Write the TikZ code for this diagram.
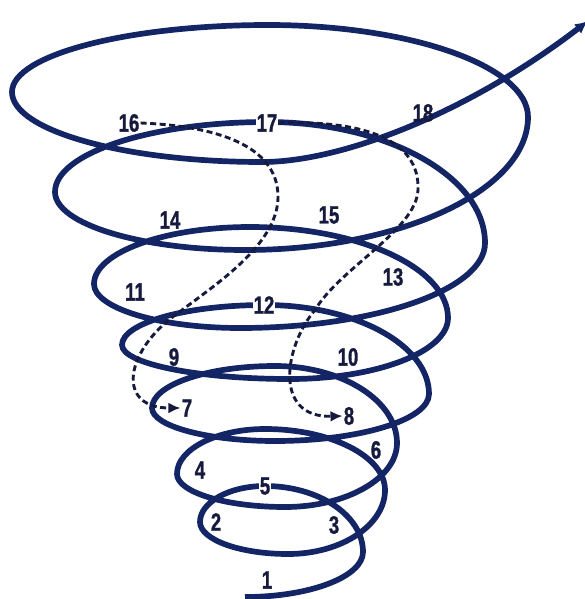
\documentclass[tikz,border=0pt]{standalone}
\usepackage{fontspec}
\newfontfamily\numfont{Liberation Sans}[UprightFont={* Bold}, FakeStretch=0.74, FakeBold=1.2]
\usetikzlibrary{calc,arrows.meta}

\definecolor{coilblue}{RGB}{20,37,102}
\definecolor{numink}{RGB}{22,26,60}

\tikzset{
  coil/.style={coilblue, line width=5.7pt},
  % quarter turns: horizontal tangent -> vertical tangent, and back
  hv/.style 2 args={insert path={.. controls ($(#1)!.55!(#1-|#2)$) and ($(#2)!.55!(#1-|#2)$) .. (#2)}},
  vh/.style 2 args={insert path={.. controls ($(#1)!.55!(#2-|#1)$) and ($(#2)!.55!(#2-|#1)$) .. (#2)}},
  num/.style={text=numink, inner sep=1.2pt, font=\numfont\fontsize{25}{25}\selectfont},
  gap/.style={num, fill=white},
  jump/.style={numink, line width=2.9pt, dash pattern=on 6pt off 3.5pt, -{Latex[length=12pt,width=11pt]}}
}

\begin{document}
\begin{tikzpicture}[x=1pt, y=-1pt]
\useasboundingbox (0,0) rectangle (584,599);

% Turning points of the coil (bottom, right, top, left)
\coordinate (S)  at (245,597);
\coordinate (R1) at (363,552);
\coordinate (T1) at (265,486);
\coordinate (L1) at (200,522);
\coordinate (B2) at (288,554);
\coordinate (R2) at (385,490);
\coordinate (T2) at (265,429);
\coordinate (L2) at (177,474);
\coordinate (B3) at (285,507);
\coordinate (R3) at (397,443);
\coordinate (T3) at (275,366);
\coordinate (L3) at (152,408);
\coordinate (B4) at (275,441);
\coordinate (R4) at (429,394);
\coordinate (T4) at (265,305);
\coordinate (L4) at (122,345);
\coordinate (B5) at (290,379);
\coordinate (R5) at (448,318);
\coordinate (T5) at (250,227);
\coordinate (L5) at (94,284);
\coordinate (B6) at (240,328);
\coordinate (R6) at (485,243);
\coordinate (T6) at (267,122);
\coordinate (L6) at (55,192);
\coordinate (B7) at (245,250);
\coordinate (R7) at (528,117);
\coordinate (T7) at (268,25);
\coordinate (L7) at (12,92);
\coordinate (B8) at (262,162);
\coordinate (E)  at (588,21);

% The coil
\draw[coil, -{Latex[length=13pt,width=12pt]}] (S)
  [hv={S}{R1}] [vh={R1}{T1}] [hv={T1}{L1}] [vh={L1}{B2}]
  [hv={B2}{R2}] [vh={R2}{T2}] [hv={T2}{L2}] [vh={L2}{B3}]
  [hv={B3}{R3}] [vh={R3}{T3}] [hv={T3}{L3}] [vh={L3}{B4}]
  [hv={B4}{R4}] [vh={R4}{T4}] [hv={T4}{L4}] [vh={L4}{B5}]
  [hv={B5}{R5}] [vh={R5}{T5}] [hv={T5}{L5}] [vh={L5}{B6}]
  [hv={B6}{R6}] [vh={R6}{T6}] [hv={T6}{L6}] [vh={L6}{B7}]
  [hv={B7}{R7}] [vh={R7}{T7}] [hv={T7}{L7}] [vh={L7}{B8}]
  .. controls (345,162) and (472,110) .. (E);

% Numbers
\node[num] (n1)  at (267,580) {1};
\node[num] (n2)  at (216,522) {2};
\node[num] (n3)  at (334,525) {3};
\node[num] (n4)  at (200,470) {4};
\node[gap] (n5)  at (265,486) {5};
\node[num] (n6)  at (376,450) {6};
\node[num] (n7)  at (187,408) {7};
\node[num] (n8)  at (349,416) {8};
\node[num] (n9)  at (174,357) {9};
\node[num] (n10) at (348,357) {10};
\node[num] (n11) at (135,292) {11};
\node[gap] (n12) at (264,305) {12};
\node[num] (n13) at (393,277) {13};
\node[num] (n14) at (170,220) {14};
\node[num] (n15) at (329,215) {15};
\node[num] (n16) at (129,123) {16};
\node[gap] (n17) at (267,123) {17};
\node[num] (n18) at (423,113) {18};

% Shortcuts back down the coil
\draw[jump] (n16.east) .. controls (215,126) and (279,145) .. (278,198)
  .. controls (277,245) and (215,285) .. (178,313)
  .. controls (125,350) and (115,408) .. (n7.west);
\draw[jump] (n17.east) .. controls (365,120) and (420,140) .. (418,190)
  .. controls (416,230) and (340,268) .. (315,310)
  .. controls (285,345) and (272,418) .. (n8.west);

\end{tikzpicture}
\end{document}
